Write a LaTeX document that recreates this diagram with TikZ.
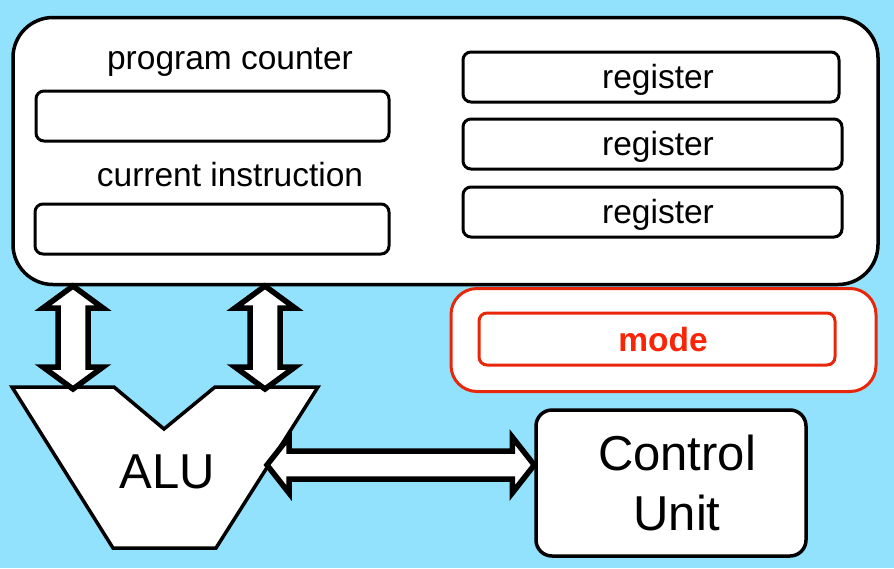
\documentclass[tikz,border=0pt]{standalone}
\usepackage{fontspec}
\setmainfont{Liberation Sans}
\usetikzlibrary{calc}
\definecolor{bgblue}{RGB}{147,226,253}
\definecolor{modered}{RGB}{232,38,10}
\definecolor{modetext}{RGB}{250,36,6}
\newcommand{\vbusarrow}[2]{%
  \draw[busarrow] (#1) -- ($(#1)+(30,22)$) -- ($(#1)+(15,22)$) -- ($(#2)+(15,-22)$) -- ($(#2)+(30,-22)$) -- (#2)
    -- ($(#2)+(-30,-22)$) -- ($(#2)+(-15,-22)$) -- ($(#1)+(-15,22)$) -- ($(#1)+(-30,22)$) -- cycle;}
\newcommand{\hbusarrow}[2]{%
  \draw[busarrow] (#1) -- ($(#1)+(22,-28)$) -- ($(#1)+(22,-14)$) -- ($(#2)+(-22,-14)$) -- ($(#2)+(-22,-28)$) -- (#2)
    -- ($(#2)+(-22,28)$) -- ($(#2)+(-22,14)$) -- ($(#1)+(22,14)$) -- ($(#1)+(22,28)$) -- cycle;}
\tikzset{
  outerbox/.style={draw=black, fill=white, line width=3.5pt, rounded corners=40pt, inner sep=0pt},
  regbox/.style={draw=black, fill=white, line width=3pt, rounded corners=8pt, inner sep=0pt, minimum height=50pt},
  modeouter/.style={draw=modered, fill=white, line width=3pt, rounded corners=26pt, inner sep=0pt},
  modeinner/.style={draw=modered, fill=white, line width=3pt, rounded corners=8pt, inner sep=0pt},
  cubox/.style={draw=black, fill=white, line width=3.5pt, rounded corners=16pt, inner sep=0pt},
  cutext/.style={inner sep=0pt, align=center, font=\fontsize{49}{60}\selectfont},
  alushape/.style={draw=black, fill=white, line width=3.5pt, line join=miter},
  busarrow/.style={draw=black, fill=white, line width=5.5pt, line join=miter},
  lbl/.style={inner sep=0pt, anchor=base, font=\fontsize{33.5}{40}\selectfont},
  biglbl/.style={inner sep=0pt, anchor=base, font=\fontsize{49}{60}\selectfont},
}
\begin{document}
\begin{tikzpicture}[x=1pt, y=-1pt]
\fill[bgblue] (0,0) rectangle (894,568);
\useasboundingbox (0,0) rectangle (894,568);
% register file
\node[outerbox, minimum width=865pt, minimum height=267pt] (cpu) at (445.5,151) {};
\node[lbl] (pclbl) at (230,69) {program counter};
\node[regbox, minimum width=353pt] (pc) at (212.5,116) {};
\node[lbl] (cilbl) at (230,186) {current instruction};
\node[regbox, minimum width=354pt] (ci) at (212,229) {};
\node[regbox, minimum width=376pt] (r1) at (651,77) {};
\node[lbl] (r1lbl) at (658,88) {register};
\node[regbox, minimum width=379pt] (r2) at (652.5,144) {};
\node[lbl] (r2lbl) at (658,155) {register};
\node[regbox, minimum width=379pt] (r3) at (652.5,212) {};
\node[lbl] (r3lbl) at (658,223) {register};
% mode
\node[modeouter, minimum width=425pt, minimum height=103pt] (modebox) at (663.5,340) {};
\node[modeinner, minimum width=356pt, minimum height=52pt] (modereg) at (657,339) {};
\node[lbl, text=modetext, font=\fontsize{33.5}{40}\selectfont\bfseries] (modelbl) at (663,351) {mode};
% ALU
\coordinate (a1) at (12,387);
\coordinate (a2) at (114,387);
\coordinate (a3) at (164,429);
\coordinate (a4) at (215,387);
\coordinate (a5) at (318,387);
\coordinate (a6) at (216,548);
\coordinate (a7) at (113,548);
\draw[alushape] (a1) -- (a2) -- (a3) -- (a4) -- (a5) -- (a6) -- (a7) -- cycle;
\node[biglbl] (alu) at (167,488) {ALU};
% control unit
\node[cubox, minimum width=270pt, minimum height=146pt] (cu) at (671,483) {};
\node[cutext] (cutxt) at (677,483) {Control\\Unit};
% buses
\coordinate (bl1) at (73,286);
\coordinate (bl2) at (73,389);
\coordinate (br1) at (265,286);
\coordinate (br2) at (265,389);
\coordinate (bh1) at (267,465);
\coordinate (bh2) at (cu.west |- bh1);
\vbusarrow{bl1}{bl2}
\vbusarrow{br1}{br2}
\hbusarrow{bh1}{bh2}
\end{tikzpicture}
\end{document}
